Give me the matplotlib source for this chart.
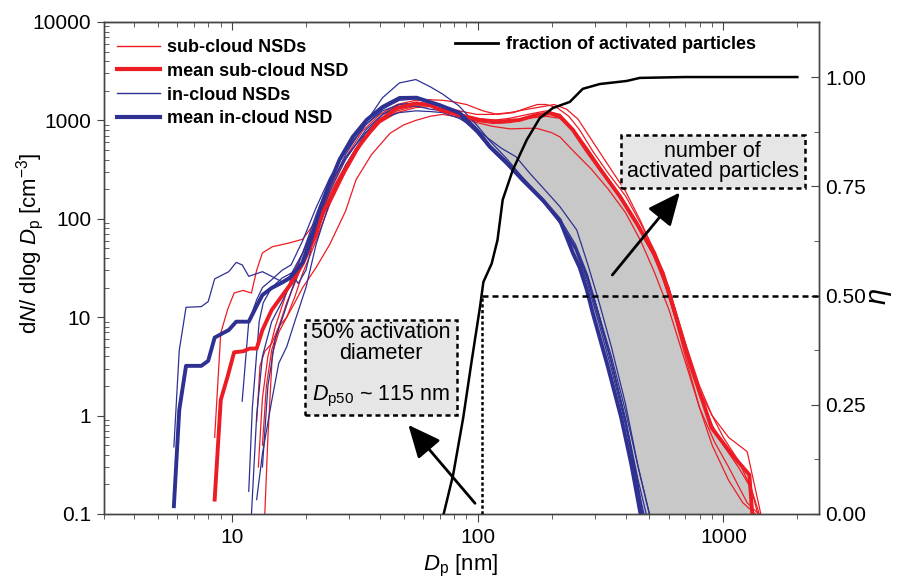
import numpy as np
import matplotlib
matplotlib.use('Agg')
import matplotlib.pyplot as plt
from matplotlib.lines import Line2D
from matplotlib.ticker import FixedLocator, NullFormatter, FuncFormatter, LogLocator

plt.rcParams['font.family'] = ['Liberation Sans', 'DejaVu Sans']
plt.rcParams['mathtext.fontset'] = 'custom'
plt.rcParams['mathtext.rm'] = 'Liberation Sans'
plt.rcParams['mathtext.it'] = 'Liberation Sans:italic'
plt.rcParams['mathtext.bf'] = 'Liberation Sans:bold'

RED = '#ed1c24'
BLUE = '#2e3192'
GRAY_FILL = '#c8c8c8'
SPINE = '#444444'

# mean size distributions (Dp in nm, dN/dlogDp in cm^-3)
mean_sub_D = [8.5, 9.0, 9.6, 10.2, 11.1, 11.8, 12.6, 13.3, 14.5, 15.9, 17.4, 19.4, 22.0, 23.4, 27.4,
              32.0, 38.7, 46.7, 56.3, 63.8, 70, 84.5, 102, 123, 148, 174, 197, 216, 244, 277,
              324, 380, 444, 520, 567, 635, 740, 896, 1085, 1276, 1311]
mean_sub_N = [0.14, 1.44, 2.5, 4.4, 4.5, 4.8, 4.8, 7.4, 11.8, 16.2, 22, 35, 70, 114, 248,
              500, 935, 1330, 1490, 1440, 1280, 1135, 1010, 970, 1010, 1135, 1180, 1100, 800, 500,
              290, 168, 90, 45, 28, 11, 3.1, 0.75, 0.4, 0.25, 0.1]

mean_in_D = [5.8, 6.1, 6.5, 7.5, 8.0, 8.5, 9.2, 9.7, 10.4, 11.7, 12.6, 13.3, 14.5, 15.9, 17.2,
             19.4, 20.7, 22.7, 25.0, 27.4, 31.0, 35.3, 41.0, 48.1, 56.4, 63.8, 70.0, 84.5, 99.1, 112,
             131, 152, 184, 216, 244, 260, 278, 294, 338, 384, 422, 460]
mean_in_N = [0.12, 1.14, 3.2, 3.2, 3.6, 6.2, 6.9, 7.4, 9.0, 9.0, 13, 16.8, 19.8, 22.3, 25,
             36, 55, 120, 230, 400, 680, 1010, 1370, 1690, 1700, 1540, 1430, 1190, 800, 540,
             370, 250, 155, 97, 45, 32, 19, 11, 3.2, 0.95, 0.32, 0.1]

# individual sub-cloud NSDs
sc1_D = [8.5, 9.0, 9.6, 10.2, 11.1, 12.0, 12.6, 13.3, 14.6, 17.2, 19.4, 22, 25, 29, 34, 40, 47, 56, 64, 72,
         84, 99, 115, 135, 160, 190, 205, 230, 256, 295, 340, 400, 460, 520, 600, 700, 800, 900, 1050, 1250, 1420]
sc1_N = [0.6, 6.9, 12, 17.6, 18.7, 17.6, 30, 45, 52, 57, 62, 95, 180, 350, 650, 1000, 1300, 1450, 1500, 1400,
         1250, 1150, 1150, 1200, 1300, 1400, 1450, 1300, 1030, 600, 350, 190, 95, 48, 16, 4.5, 1.8, 1.0, 0.6, 0.43, 0.1]
sc2_D = [12.6, 13.0, 13.6, 14.5, 15.5, 16.7, 18, 19.4, 22, 25, 29, 34, 40, 47, 56, 64, 72, 84, 99,
         115, 135, 160, 190, 216, 245, 280, 325, 380, 445, 520, 600, 700, 800, 900, 1000, 1150, 1300, 1380]
sc2_N = [0.87, 3.2, 4.5, 5.4, 8, 10, 16, 28, 60, 140, 300, 600, 950, 1250, 1400, 1420, 1300, 1150, 1050,
         1000, 1050, 1150, 1250, 1150, 820, 520, 300, 170, 90, 45, 20, 5, 1.6, 0.8, 0.5, 0.3, 0.18, 0.1]
sc3_D = [13.3, 13.8, 14.5, 15.5, 16.7, 18, 19.4, 22, 25, 29, 34, 40, 47, 56, 64, 72, 84, 99,
         115, 135, 160, 190, 216, 245, 280, 325, 380, 445, 520, 600, 700, 800, 900, 1050, 1200, 1350]
sc3_N = [0.5, 2.0, 4.6, 8, 14, 22, 35, 70, 160, 330, 620, 950, 1200, 1350, 1380, 1300, 1100, 980,
         930, 950, 1050, 1100, 1050, 780, 480, 280, 160, 85, 42, 17, 4, 1.2, 0.5, 0.22, 0.13, 0.1]
sc4_D = [13.6, 14.0, 14.6, 15.5, 16.7, 18, 19.4, 22, 25, 29, 32, 37, 44, 50, 56, 64, 72, 84, 99,
         115, 135, 160, 174, 200, 216, 250, 290, 340, 400, 460, 520, 600, 700, 800, 920, 1050, 1250, 1450]
sc4_N = [0.1, 0.6, 4.3, 7, 10, 14, 20, 32, 55, 120, 250, 450, 740, 900, 1000, 1100, 1150, 1080, 950,
         870, 820, 830, 830, 750, 680, 464, 320, 200, 115, 60, 30, 12, 3.5, 1.2, 0.54, 0.3, 0.13, 0.09]
sc5_D = [12.8, 13.3, 14.0, 15.0, 16.3, 17.4, 19.4, 22, 25, 29, 34, 40, 47, 56, 64, 72, 79, 90, 105, 120,
         140, 160, 175, 190, 210, 235, 260, 295, 340, 400, 460, 530, 600, 700, 800, 900, 1000, 1150, 1300, 1400]
sc5_N = [0.3, 1.5, 4, 8, 15, 25, 45, 90, 200, 420, 780, 1150, 1450, 1600, 1620, 1600, 1550, 1450, 1250, 1150,
         1200, 1350, 1450, 1450, 1350, 1100, 800, 480, 290, 170, 90, 45, 20, 5.5, 2.0, 1.0, 0.6, 0.35, 0.18, 0.1]

# individual in-cloud NSDs
ic1_D = [5.8, 6.1, 6.5, 7.5, 8.0, 8.5, 9.7, 10.4, 11.0, 11.7, 13.3, 14.5, 15.9, 17.2, 19.4, 22, 25, 29, 35,
         41, 48, 56, 64, 72, 84, 99, 112, 131, 152, 184, 216, 250, 280, 310, 350, 400, 450, 490]
ic1_N = [0.48, 4.6, 12.6, 12.8, 14.4, 24.5, 29, 36, 34, 26, 29, 26, 23, 26, 45, 95, 210, 450, 950,
         1700, 2400, 2600, 2200, 1850, 1400, 900, 620, 410, 265, 160, 95, 50, 26, 11, 3.5, 0.9, 0.22, 0.09]
ic2_D = [11.0, 11.7, 12.6, 13.3, 14.5, 16, 17.4, 19.4, 22, 25, 29, 35, 41, 48, 56, 64, 72, 84, 99,
         112, 131, 152, 184, 216, 250, 280, 310, 350, 400, 450, 470]
ic2_N = [1.4, 9, 15, 20, 24, 30, 34, 60, 130, 260, 480, 900, 1250, 1450, 1500, 1400, 1300, 1100, 750,
         520, 360, 240, 150, 92, 50, 24, 10, 3.5, 0.9, 0.2, 0.1]
ic3_D = [11.7, 12.1, 12.9, 13.4, 14.5, 16, 17.4, 18.6, 20, 22, 25, 29, 35, 41, 48, 56, 64, 72, 84, 99,
         112, 131, 152, 184, 216, 250, 280, 310, 350, 400, 450, 475]
ic3_N = [0.17, 1.2, 9, 14, 20, 25, 28, 22, 30, 80, 190, 400, 800, 1150, 1350, 1400, 1300, 1250, 1150, 820,
         560, 390, 250, 150, 90, 48, 22, 9, 3, 0.8, 0.18, 0.1]
ic4_D = [12.6, 13.3, 14.5, 15.5, 16.7, 18, 20, 22, 25, 29, 35, 41, 48, 56, 64, 72, 84, 99, 112,
         131, 152, 184, 216, 250, 280, 310, 350, 400, 440, 465]
ic4_N = [0.14, 0.41, 1.4, 3.4, 5, 9, 20, 55, 150, 350, 750, 1150, 1450, 1500, 1400, 1300, 1120, 800, 560,
         380, 260, 160, 100, 55, 27, 11, 3.5, 0.9, 0.25, 0.1]
ic5_D = [13.3, 14.0, 15, 16.3, 17.4, 19.4, 22, 25, 29, 35, 41, 48, 56, 64, 72, 84, 99, 108, 125,
         143, 163, 190, 216, 253, 280, 310, 350, 400, 450, 500]
ic5_N = [0.3, 2, 6, 11, 18, 40, 100, 220, 420, 750, 1050, 1200, 1250, 1230, 1200, 1050, 820, 683, 520,
         428, 290, 190, 133, 77, 35, 15, 5, 1.3, 0.3, 0.1]
ic6_D = [12.0, 12.6, 13.3, 14.5, 15.9, 17.4, 19.4, 22, 25, 29, 35, 41, 48, 56, 64, 72, 84, 99, 112,
         131, 152, 184, 216, 250, 280, 310, 350, 400, 450, 500]
ic6_N = [0.1, 1.0, 4, 9, 14, 22, 45, 110, 250, 500, 900, 1300, 1600, 1650, 1500, 1350, 1150, 780, 530,
         360, 245, 150, 95, 52, 25, 11, 4, 1.1, 0.3, 0.1]

# fraction of activated particles
frac_D = [72.7, 79.4, 87.3, 94.5, 102.2, 105.5, 114, 120.4, 126.4, 138.9, 158.3, 178.9, 202.1,
          237, 267.7, 314, 404, 457, 700, 1000, 2000]
frac_eta = [0.0, 0.089, 0.22, 0.35, 0.474, 0.531, 0.573, 0.627, 0.719, 0.787, 0.856, 0.906, 0.929,
            0.943, 0.973, 0.984, 0.991, 0.998, 1.0, 1.0, 1.0]
dp50 = 104

sub_curves = [(sc1_D, sc1_N), (sc2_D, sc2_N), (sc3_D, sc3_N), (sc4_D, sc4_N), (sc5_D, sc5_N)]
in_curves = [(ic1_D, ic1_N), (ic2_D, ic2_N), (ic3_D, ic3_N), (ic4_D, ic4_N), (ic5_D, ic5_N), (ic6_D, ic6_N)]

XMIN, XMAX = 3, 2440

fig = plt.figure(figsize=(9.09, 5.83), dpi=100)
ax = fig.add_axes([0.1139, 0.1184, 0.7866, 0.8439])
ax2 = ax.twinx()

ax.set_xscale('log')
ax.set_yscale('log')
ax.set_xlim(XMIN, XMAX)
ax.set_ylim(0.1, 10000)
ax2.set_ylim(0, 1.126)

# shaded area: activated particles between mean sub-cloud and mean in-cloud NSD
s_idx = [i for i, d in enumerate(mean_sub_D) if d >= 84.5]
i_idx = [i for i, d in enumerate(mean_in_D) if d >= 84.5]
poly_x = [mean_sub_D[i] for i in s_idx] + [mean_in_D[i] for i in reversed(i_idx)]
poly_y = [mean_sub_N[i] for i in s_idx] + [mean_in_N[i] for i in reversed(i_idx)]
ax.fill(poly_x, poly_y, color=GRAY_FILL, lw=0, zorder=1)

for d, n in sub_curves:
    ax.plot(d, n, color=RED, lw=0.9, zorder=2)
for d, n in in_curves:
    ax.plot(d, n, color=BLUE, lw=0.9, zorder=2)
ax.plot(mean_sub_D, mean_sub_N, color=RED, lw=2.8, zorder=3)
ax.plot(mean_in_D, mean_in_N, color=BLUE, lw=2.8, zorder=3)

# activated fraction and Dp50 guide lines
ax2.plot(frac_D, frac_eta, color='black', lw=1.8, zorder=4)
ax2.plot([dp50, dp50], [0, 0.5], color='black', lw=1.8, ls=(0, (1.3, 1.0)), zorder=4)
ax2.plot([dp50, XMAX], [0.5, 0.5], color='black', lw=1.8, ls=(0, (2.4, 1.6)), zorder=4)

# axes styling
for a in (ax, ax2):
    for sp in a.spines.values():
        sp.set_color(SPINE)
        sp.set_linewidth(1.0)

ax.xaxis.set_major_formatter(FuncFormatter(lambda v, p: f'{v:g}'))
ax.xaxis.set_minor_formatter(NullFormatter())
ax.yaxis.set_major_formatter(FuncFormatter(lambda v, p: f'{v:g}'))
ax.yaxis.set_minor_formatter(NullFormatter())
ax.xaxis.set_minor_locator(LogLocator(base=10, subs=np.arange(2, 10), numticks=20))
ax.yaxis.set_minor_locator(LogLocator(base=10, subs=np.arange(2, 10), numticks=20))
ax.tick_params(axis='x', which='major', direction='out', length=6, labelsize=15, color=SPINE, pad=4)
ax.tick_params(axis='x', which='minor', direction='out', length=3.5, color=SPINE)
ax.tick_params(axis='y', which='major', direction='out', length=5, labelsize=15, color=SPINE, pad=4)
ax.tick_params(axis='y', which='minor', direction='in', length=3.5, color=SPINE)

top = ax.secondary_xaxis('top')
top.tick_params(which='major', direction='in', length=6, color=SPINE, labeltop=False)
top.tick_params(which='minor', direction='in', length=3.5, color=SPINE)
top.xaxis.set_minor_locator(LogLocator(base=10, subs=np.arange(2, 10), numticks=20))
top.xaxis.set_minor_formatter(NullFormatter())
top.xaxis.set_major_formatter(NullFormatter())

ax2.yaxis.set_major_locator(FixedLocator([0, 0.25, 0.5, 0.75, 1.0]))
ax2.yaxis.set_minor_locator(FixedLocator([0.125, 0.375, 0.625, 0.875, 1.125]))
ax2.yaxis.set_major_formatter(FuncFormatter(lambda v, p: f'{v:.2f}'))
ax2.tick_params(axis='y', which='major', direction='in', length=6, labelsize=15, color=SPINE, pad=5)
ax2.tick_params(axis='y', which='minor', direction='in', length=3.5, color=SPINE)

ax.set_xlabel(r'$\mathit{D}_{\mathrm{p}}$ [nm]', fontsize=16, labelpad=4)
ax.set_ylabel(r'd$\mathit{N}$/ dlog $\mathit{D}_{\mathrm{p}}$ [cm$^{-3}$]', fontsize=16)
ax.yaxis.set_label_coords(-0.080, 0.55)
# right axis label (activated fraction), drawn sideways
ax.text(1.083, 0.443, 'η', transform=ax.transAxes, fontsize=21, fontstyle='italic',
        rotation=90, rotation_mode='anchor', ha='center', va='center')

# legends
handles = [Line2D([], [], color=RED, lw=1), Line2D([], [], color=RED, lw=3),
           Line2D([], [], color=BLUE, lw=1), Line2D([], [], color=BLUE, lw=3)]
labels = ['sub-cloud NSDs', 'mean sub-cloud NSD', 'in-cloud NSDs', 'mean in-cloud NSD']
ax.legend(handles, labels, loc='upper left', bbox_to_anchor=(-0.002, 0.995), frameon=False,
          prop={'weight': 'bold', 'size': 13}, handlelength=2.4, handletextpad=0.4,
          labelspacing=0.38, borderaxespad=0.4)
ax2.legend([Line2D([], [], color='black', lw=2)], ['fraction of activated particles'],
           loc='upper left', bbox_to_anchor=(0.474, 0.997), frameon=False,
           prop={'weight': 'bold', 'size': 13}, handlelength=2.4, handletextpad=0.4, borderaxespad=0.3)

# annotation boxes and arrows
box = dict(boxstyle='square,pad=0.28', fc='#e6e6e6', ec='black', lw=1.8, ls=(0, (2, 1.5)))
ax2.text(0.388, 0.301, '50% activation\ndiameter\n\n$\\mathit{D}_{\\mathrm{p50}}$ ~ 115 nm',
         transform=ax.transAxes, ha='center', va='center', fontsize=15.5, linespacing=0.98,
         bbox=box, zorder=6)
ax2.text(0.852, 0.7165, 'number of\nactivated particles', transform=ax.transAxes,
         ha='center', va='center', fontsize=15.5, linespacing=0.92, bbox=box, zorder=6)

arrow = dict(arrowstyle='-|>,head_length=1.0,head_width=0.45', lw=2, color='black',
             shrinkA=0, shrinkB=0, mutation_scale=20)
ax2.annotate('', xy=(0.4263, 0.181), xytext=(0.5196, 0.0217), xycoords='axes fraction',
             textcoords='axes fraction', arrowprops=arrow, zorder=6)
ax2.annotate('', xy=(0.806, 0.6535), xytext=(0.7116, 0.4858), xycoords='axes fraction',
             textcoords='axes fraction', arrowprops=arrow, zorder=6)

fig.savefig('out.png', dpi=100)
